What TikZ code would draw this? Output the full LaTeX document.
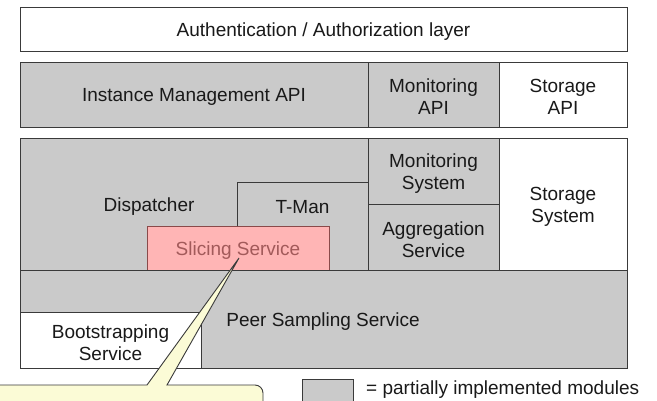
\documentclass[tikz,border=0pt]{standalone}
\usepackage{fontspec}
\setmainfont{Liberation Sans}
\usetikzlibrary{fit}
\definecolor{modgray}{HTML}{CACACA}
\definecolor{edgegray}{HTML}{3A3A3A}
\definecolor{slicefill}{HTML}{FFB5B5}
\definecolor{sliceedge}{HTML}{8A4A4A}
\definecolor{slicetext}{HTML}{A25A5A}
\definecolor{calloutfill}{HTML}{FBFBD6}
\tikzset{
  mod/.style={draw=edgegray, line width=1pt, inner sep=0pt},
  gmod/.style={mod, fill=modgray},
  wmod/.style={mod, fill=white},
  smod/.style={mod, fill=slicefill, draw=sliceedge},
  lbl/.style={inner sep=0pt, align=center, yshift=-2pt, font=\fontsize{19}{22}\selectfont, text=black!90},
}
\begin{document}
\begin{tikzpicture}[x=1pt,y=-1pt]
\useasboundingbox (0,0) rectangle (657,401);
\clip (0,0) rectangle (657,401);
% top layer
\node[wmod, fit={(20,7.5) (627,51.5)}] (auth) {};
\node[lbl] (authlbl) at (auth.center) {Authentication / Authorization layer};
% API row
\node[gmod, fit={(20,62.5) (368,127.7)}] (imapi) {};
\node[lbl] (imapilbl) at (imapi.center) {Instance Management API};
\node[gmod, fit={(368,62.5) (499,127.7)}] (monapi) {};
\node[lbl] (monapilbl) at (monapi.center) {Monitoring\\API};
\node[wmod, fit={(499,62.5) (627,127.7)}] (storapi) {};
\node[lbl] (storapilbl) at (storapi.center) {Storage\\API};
% core block
\node[gmod, fit={(20,138.5) (368,270.5)}] (disp) {};
\node[lbl] (displbl) at (149,205) {Dispatcher};
\node[gmod, fit={(237,183) (368,270.5)}] (tman) {};
\node[lbl] (tmanlbl) at (302.5,205) {T-Man};
\node[smod, fit={(147,227) (329,270.5)}] (slice) {};
\node[lbl, text=slicetext] (slicelbl) at (slice.center) {Slicing Service};
\node[gmod, fit={(368,138.5) (499,204.5)}] (monsys) {};
\node[lbl] (monsyslbl) at (monsys.center) {Monitoring\\System};
\node[gmod, fit={(368,204.5) (499,270.5)}] (aggr) {};
\node[lbl] (aggrlbl) at (aggr.center) {Aggregation\\Service};
\node[wmod, fit={(499,138.5) (627,270.5)}] (storsys) {};
\node[lbl] (storsyslbl) at (storsys.center) {Storage\\System};
\node[gmod, fit={(20,270.5) (627,368)}] (peer) {};
\node[lbl] (peerlbl) at (323,320) {Peer Sampling Service};
\node[wmod, fit={(20,313) (201,368)}] (boot) {};
\node[lbl] (bootlbl) at (boot.center) {Bootstrapping\\Service};
% legend
\node[gmod, fit={(302,379) (353,410)}] (legbox) {};
\node[lbl, yshift=2pt, anchor=base west] (legtxt) at (366,395) {= partially implemented modules};
% callout
\coordinate (tip) at (239,258);
\draw[draw=edgegray, line width=0.9pt, fill=calloutfill]
  (-10,385) -- (147,385) -- (tip) -- (167,385) -- (255,385)
  arc[start angle=-90, end angle=0, radius=8] -- (263,410) -- (-10,410) -- cycle;
\end{tikzpicture}
\end{document}
